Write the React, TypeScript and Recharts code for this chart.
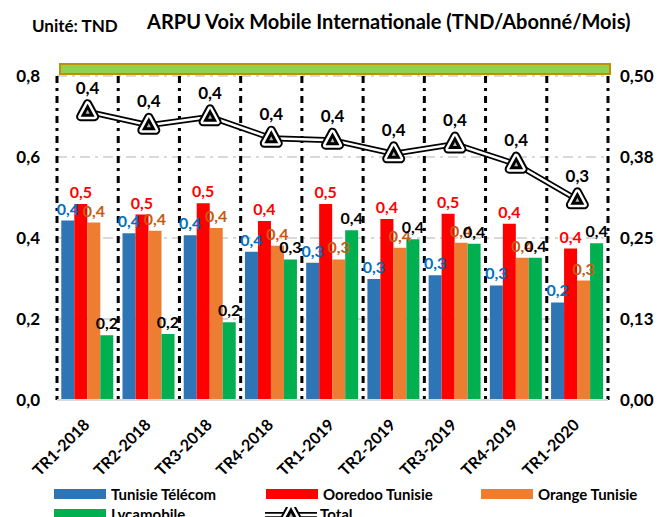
import React from 'react';
import { ComposedChart, Bar, Line, XAxis, YAxis, CartesianGrid, LabelList } from 'recharts';

const categories = ['TR1-2018', 'TR2-2018', 'TR3-2018', 'TR4-2018', 'TR1-2019', 'TR2-2019', 'TR3-2019', 'TR4-2019', 'TR1-2020'];
const tunisieTelecom = [0.443, 0.412, 0.407, 0.366, 0.339, 0.299, 0.308, 0.283, 0.241];
const ooredoo = [0.484, 0.458, 0.486, 0.442, 0.484, 0.447, 0.46, 0.435, 0.374];
const orangeTn = [0.438, 0.418, 0.425, 0.381, 0.347, 0.376, 0.388, 0.351, 0.295];
const lycamobile = [0.16, 0.163, 0.192, 0.347, 0.419, 0.397, 0.386, 0.351, 0.387];
const total = [0.445, 0.424, 0.437, 0.404, 0.401, 0.38, 0.395, 0.364, 0.309];

const leftTicks = [0, 0.2, 0.4, 0.6, 0.8];
const rightTicks = [0, 0.125, 0.25, 0.375, 0.5];

const data = categories.map((name, i) => ({
  name,
  tt: tunisieTelecom[i],
  oo: ooredoo[i],
  or: orangeTn[i],
  ly: lycamobile[i],
  total: total[i],
}));

const FONT = 'Lato, "Open Sans", sans-serif';
const BLUE = '#2e75b6';
const RED = '#ff0000';
const ORANGE = '#ed7d31';
const GREEN = '#00b050';

const fmt1 = (v: any) => Number(v).toFixed(1).replace('.', ',');
const fmt2 = (v: any) => Number(v).toFixed(2).replace('.', ',');

const XTick = (props: any) => {
  const { x, y, payload } = props;
  return (
    <g transform={`translate(${x - 5},${y + 10})`}>
      <text
        transform="rotate(-45)"
        x={0}
        y={0}
        dy="0.7em"
        textAnchor="end"
        fontFamily={FONT}
        fontWeight="bold"
        fontSize={16}
        fill="#000"
      >
        {payload.value}
      </text>
    </g>
  );
};

const triPath = (cx: number, cy: number) =>
  `M${cx},${cy - 8} L${cx + 7},${cy + 5} L${cx - 7},${cy + 5} Z`;

const TriangleDot = (props: any) => {
  const { cx, cy } = props;
  if (cx == null || cy == null) return null;
  const d = triPath(cx, cy);
  return (
    <g>
      <path d={d} fill="#000" stroke="#000" strokeWidth={9} strokeLinejoin="round" />
      <path d={d} fill="#000" stroke="#fff" strokeWidth={5} strokeLinejoin="round" />
      <path d={d} fill="#000" stroke="none" />
      <path d={`M${cx},${cy - 2} L${cx + 2},${cy + 2} L${cx - 2},${cy + 2} Z`} fill="#bbb" />
    </g>
  );
};

const barLabel = (color: string) => ({
  position: 'top' as const,
  offset: 6,
  formatter: fmt1,
  fill: color,
  fontFamily: FONT,
  fontWeight: 'bold',
  fontSize: 16,
});

const Swatch = ({ color }: { color: string }) => (
  <span style={{ display: 'inline-block', width: 52, height: 10, background: color, marginRight: 5 }} />
);

const TotalIcon = () => (
  <svg width={54} height={14} style={{ marginRight: 2 }}>
    <line x1={1} y1={8} x2={53} y2={8} stroke="#000" strokeWidth={6} />
    <line x1={1} y1={8} x2={53} y2={8} stroke="#fff" strokeWidth={2.5} />
    <TriangleDot cx={27} cy={8} />
  </svg>
);

const legendItems = [
  { label: 'Tunisie Télécom', color: BLUE, left: 54, top: 484 },
  { label: 'Ooredoo Tunisie', color: RED, left: 266, top: 484 },
  { label: 'Orange Tunisie', color: ORANGE, left: 481, top: 484 },
  { label: 'Lycamobile', color: GREEN, left: 54, top: 504 },
];

export default function App() {
  return (
    <div style={{ position: 'absolute', left: 0, top: 0, width: 661, height: 517, background: '#fff', overflow: 'hidden', fontFamily: FONT }}>
      <div style={{ position: 'absolute', left: 32, top: 15, fontSize: 17, fontWeight: 'bold' }}>Unité: TND</div>
      <div style={{ position: 'absolute', left: 147, top: 9, fontSize: 20, fontWeight: 'bold' }}>
        ARPU Voix Mobile Internationale (TND/Abonné/Mois)
      </div>
      <ComposedChart
        width={661}
        height={517}
        data={data}
        margin={{ top: 76, right: 0, bottom: 0, left: 0 }}
        barCategoryGap="7%"
        barGap={0}
      >
        <CartesianGrid
          yAxisId="left"
          vertical={false}
          stroke="#d9d9d9"
          strokeWidth={2}
          strokeDasharray="10 5 3 5"
        />
        <CartesianGrid
          yAxisId="left"
          horizontal={false}
          stroke="#000"
          strokeWidth={3}
          strokeDasharray="7 5 3 5"
          verticalCoordinatesGenerator={({ offset }: any) =>
            Array.from({ length: categories.length + 1 }, (_, i) => offset.left + (i * offset.width) / categories.length)
          }
        />
        <XAxis
          dataKey="name"
          height={117}
          interval={0}
          tickLine={false}
          axisLine={{ stroke: '#d9d9d9', strokeWidth: 2 }}
          tick={<XTick />}
        />
        <YAxis
          yAxisId="left"
          orientation="left"
          width={57}
          domain={[0, 0.8]}
          ticks={leftTicks}
          tickFormatter={fmt1}
          axisLine={false}
          tickLine={false}
          tickSize={0}
          tickMargin={17}
          tick={{ fill: '#000', fontFamily: FONT, fontWeight: 'bold', fontSize: 17 }}
        />
        <YAxis
          yAxisId="right"
          orientation="right"
          width={53}
          domain={[0, 0.5]}
          ticks={rightTicks}
          tickFormatter={fmt2}
          axisLine={false}
          tickLine={false}
          tickSize={0}
          tickMargin={12}
          tick={{ fill: '#000', fontFamily: FONT, fontWeight: 'bold', fontSize: 17, textAnchor: 'start' }}
        />
        <Bar yAxisId="left" dataKey="tt" name="Tunisie Télécom" fill={BLUE} isAnimationActive={false}>
          <LabelList dataKey="tt" {...barLabel('#0070c0')} />
        </Bar>
        <Bar yAxisId="left" dataKey="oo" name="Ooredoo Tunisie" fill={RED} isAnimationActive={false}>
          <LabelList dataKey="oo" {...barLabel(RED)} />
        </Bar>
        <Bar yAxisId="left" dataKey="or" name="Orange Tunisie" fill={ORANGE} isAnimationActive={false}>
          <LabelList dataKey="or" {...barLabel('#c55a11')} />
        </Bar>
        <Bar yAxisId="left" dataKey="ly" name="Lycamobile" fill={GREEN} isAnimationActive={false}>
          <LabelList dataKey="ly" {...barLabel('#000')} />
        </Bar>
        <Line
          yAxisId="right"
          dataKey="total"
          stroke="#000"
          strokeWidth={6}
          dot={false}
          activeDot={false}
          legendType="none"
          isAnimationActive={false}
        />
        <Line
          yAxisId="right"
          dataKey="total"
          name="Total"
          stroke="#fff"
          strokeWidth={2.5}
          dot={<TriangleDot />}
          activeDot={false}
          isAnimationActive={false}
        >
          <LabelList
            dataKey="total"
            position="top"
            offset={18}
            formatter={fmt1}
            fill="#000"
            fontFamily={FONT}
            fontWeight="bold"
            fontSize={17}
          />
        </Line>
      </ComposedChart>
      <div
        style={{
          position: 'absolute',
          left: 59,
          top: 63,
          width: 548,
          height: 8,
          background: '#92d050',
          border: '2px solid #bf9000',
        }}
      />
      {legendItems.map((it) => (
        <div
          key={it.label}
          style={{ position: 'absolute', left: it.left, top: it.top, display: 'flex', alignItems: 'center', fontSize: 15, fontWeight: 'bold', height: 20 }}
        >
          <Swatch color={it.color} />
          {it.label}
        </div>
      ))}
      <div style={{ position: 'absolute', left: 264, top: 504, display: 'flex', alignItems: 'center', fontSize: 15, fontWeight: 'bold', height: 20 }}>
        <TotalIcon />
        Total
      </div>
    </div>
  );
}
